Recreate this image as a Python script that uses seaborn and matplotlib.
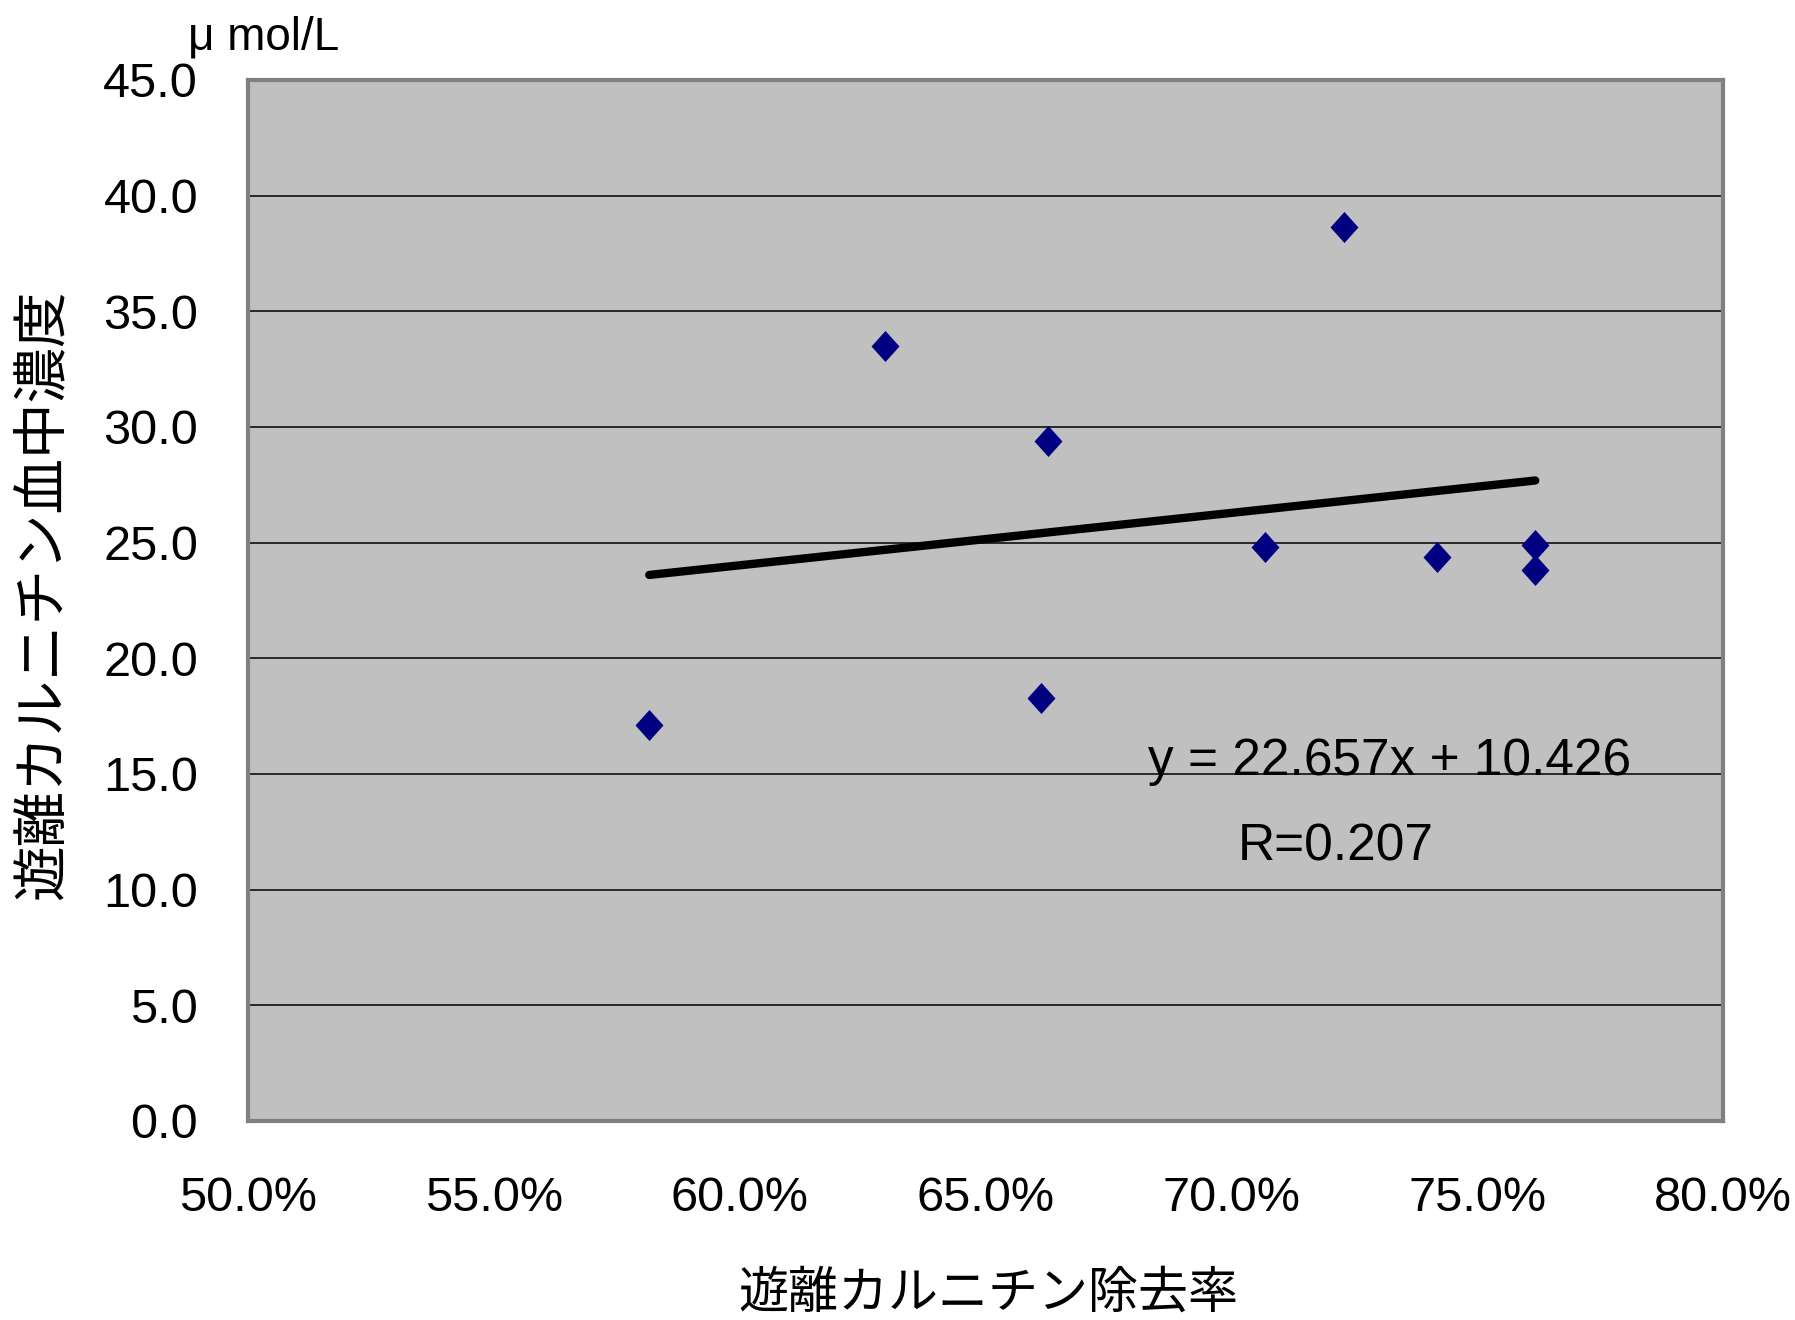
import matplotlib
matplotlib.use("Agg")
import matplotlib.pyplot as plt
import seaborn as sns
import numpy as np
import pandas as pd
from matplotlib.ticker import FuncFormatter, MultipleLocator

# data
removal_rate = [0.5816, 0.6295, 0.6628, 0.6612, 0.7068, 0.7229, 0.7418, 0.7618, 0.7618]
blood_conc = [17.1, 33.5, 29.4, 18.3, 24.8, 38.65, 24.4, 24.9, 23.8]
slope = 22.657
intercept = 10.426
eq_text = "y = 22.657x + 10.426"
r_text = "R=0.207"
xlabel = "遊離カルニチン除去率"
ylabel = "遊離カルニチン血中濃度"
unit = "μ mol/L"

sns.set_theme(style="white")
NUM_FONT = ["Liberation Sans", "DejaVu Sans"]
JP_FONT = ["Noto Sans CJK JP", "DejaVu Sans"]
plt.rcParams["font.family"] = NUM_FONT
plt.rcParams["text.color"] = "black"

df = pd.DataFrame({"x": removal_rate, "y": blood_conc})
xs = [min(removal_rate), max(removal_rate)]
trend = pd.DataFrame({"x": xs, "y": [slope * v + intercept for v in xs]})

fig = plt.figure(figsize=(17.95, 13.2), dpi=100)
ax = fig.add_axes([0.1382, 0.1508, 0.9599 - 0.1382, 0.9394 - 0.1508])
ax.set_facecolor("#C0C0C0")

diamond = [(0, 1), (0.9, 0), (0, -1), (-0.9, 0), (0, 1)]
sns.lineplot(data=trend, x="x", y="y", ax=ax, color="black", lw=6,
             solid_capstyle="round", zorder=3)
sns.scatterplot(data=df, x="x", y="y", ax=ax, marker=diamond, s=500,
                color="#000080", edgecolor="#000080", linewidth=0, zorder=4)

ax.set_xlim(0.5, 0.8)
ax.set_ylim(0, 45)
ax.xaxis.set_major_locator(MultipleLocator(0.05))
ax.yaxis.set_major_locator(MultipleLocator(5))
ax.xaxis.set_major_formatter(FuncFormatter(lambda v, p: f"{v*100:.1f}%"))
ax.yaxis.set_major_formatter(FuncFormatter(lambda v, p: f"{v:.1f}"))
ax.grid(axis="y", color="black", lw=1.1)
ax.set_axisbelow(True)

for sp in ax.spines.values():
    sp.set_color("#808080")
    sp.set_linewidth(3)
    sp.set_visible(True)

ax.tick_params(axis="x", direction="in", length=13, width=1.5, color="#505050",
               labelsize=35, pad=40, labelcolor="black")
ax.tick_params(axis="y", direction="in", length=13, width=1.5, color="#505050",
               labelsize=35, pad=36, labelcolor="black")

ax.set_xlabel("")
ax.set_ylabel("")
fig.text(988 / 1795, 1 - 1294 / 1320, xlabel, family=JP_FONT, fontsize=36,
         ha="center", va="center", color="black")
fig.text(43 / 1795, 1 - 595 / 1320, ylabel, family=JP_FONT, fontsize=40,
         ha="center", va="center", rotation=90, color="black")
fig.text(264 / 1795, 1 - 37 / 1320, unit, fontsize=33, ha="center", va="center",
         color="black")

ax.text(1148 / 1795, 1 - 761 / 1320, eq_text, transform=fig.transFigure,
        fontsize=37, ha="left", va="center", color="black")
ax.text(1336 / 1795, 1 - 847 / 1320, r_text, transform=fig.transFigure,
        fontsize=37, ha="center", va="center", color="black")

fig.savefig("out.png", dpi=100, facecolor="white")
